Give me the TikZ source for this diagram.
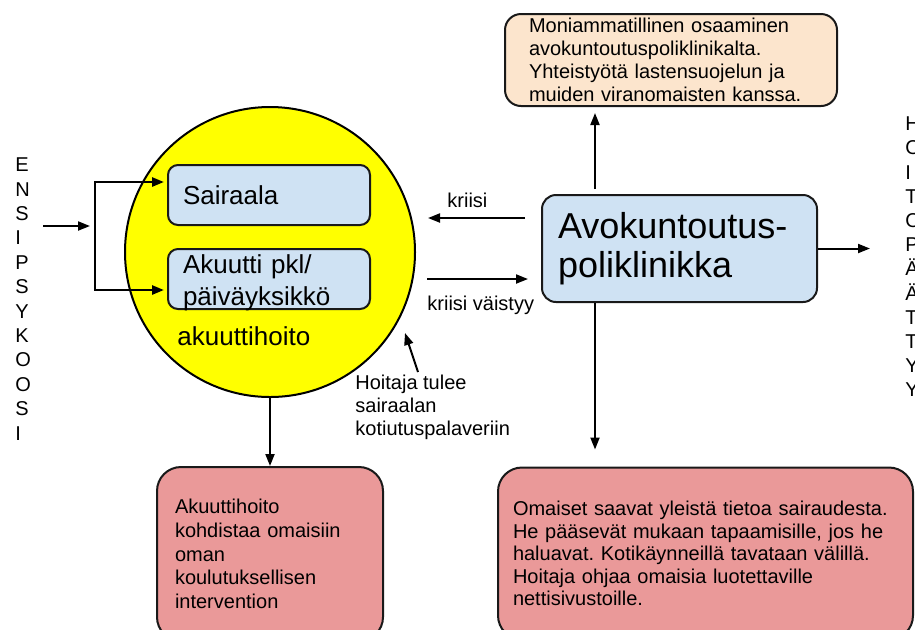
\documentclass[tikz,border=0pt]{standalone}
\usepackage{fontspec}
\setmainfont{Liberation Sans}
\usetikzlibrary{arrows.meta,calc}
\frenchspacing

\definecolor{vaaleansininen}{HTML}{CFE2F3}
\definecolor{persikka}{HTML}{FCE5CD}
\definecolor{vaaleanpunainen}{HTML}{EA9999}
\definecolor{keltainen}{HTML}{FFFF00}

\tikzset{
  laatikko/.style={draw=black!90, line width=1pt, align=left, inner ysep=0pt},
  nuoli/.style={-{Triangle[length=6pt,width=4.5pt]}, line width=1pt},
  teksti/.style={font=\fontsize{10}{11.5}\selectfont, align=left, inner sep=0pt},
}

\begin{document}
\begin{tikzpicture}[x=0.5pt,y=-0.5pt]
  \useasboundingbox (0,0) rectangle (915,629);

  \node[circle, draw, line width=1pt, fill=keltainen, minimum size=145pt, inner sep=0pt] (hoito) at (270,252) {};

  \node[laatikko, fill=vaaleansininen, rounded corners=5pt, text width=86pt, inner xsep=7.5pt,
        minimum height=30pt, font=\fontsize{13}{16}\selectfont] (sairaala) at (269,195) {Sairaala};
  \node[laatikko, fill=vaaleansininen, rounded corners=5pt, text width=86pt, inner xsep=7.5pt,
        minimum height=30pt, text depth=15pt, font=\fontsize{13}{16}\selectfont] (akuutti) at (269,279) {Akuutti pkl/\\päiväyksikkö};
  \node[anchor=base west, inner sep=0pt, font=\fontsize{13}{16}\selectfont] (akuuttihoito) at (177,345) {akuuttihoito};

  \node[laatikko, fill=vaaleansininen, rounded corners=7pt, text width=121.5pt, inner xsep=8pt,
        minimum height=53.5pt, font=\fontsize{18}{19.5}\selectfont] (avo) at (679.5,248.5) {Avokuntoutus-\\poliklinikka};

  \node[laatikko, fill=persikka, rounded corners=8pt, text width=142pt, inner xsep=12pt,
        minimum height=46pt, font=\fontsize{10}{11.5}\selectfont] (yla) at (671,60)
        {Moniammatillinen osaaminen\\avokuntoutuspoliklinikalta.\\Yhteistyötä lastensuojelun ja\\muiden viranomaisten kanssa.};

  \node[laatikko, fill=vaaleanpunainen, rounded corners=12pt, text width=95pt, inner xsep=9pt,
        minimum height=87pt, font=\fontsize{10}{11.8}\selectfont] (kohdistaa) at (270,554)
        {Akuuttihoito\\kohdistaa omaisiin\\oman\\koulutuksellisen\\intervention};
  \node[laatikko, fill=vaaleanpunainen, rounded corners=12pt, text width=192.5pt, inner xsep=7.5pt,
        minimum height=86pt, font=\fontsize{10}{11.3}\selectfont] (omaiset) at (705.5,553.5)
        {Omaiset saavat yleistä tietoa sairaudesta.\\He pääsevät mukaan tapaamisille, jos he\\haluavat. Kotikäynneillä tavataan välillä.\\Hoitaja ohjaa omaisia luotettaville\\nettisivustoille.};

  \node[teksti, font=\fontsize{10}{12.2}\selectfont, anchor=west] (ensi) at (15,299)
        {E\\N\\S\\I\\P\\S\\Y\\K\\O\\O\\S\\I};
  \node[teksti, font=\fontsize{10}{12.1}\selectfont, anchor=west] (paattyy) at (905,257)
        {H\\O\\I\\T\\O\\P\\Ä\\Ä\\T\\T\\Y\\Y};

  \node[teksti, anchor=base west] (kriisi) at (447,207) {kriisi};
  \node[teksti, anchor=base west] (vaistyy) at (427,310) {kriisi väistyy};
  \node[teksti, anchor=north west] (hoitaja) at (355,375) {Hoitaja tulee\\sairaalan\\kotiutuspalaveriin};

  \coordinate (tulo) at (43,226);
  \coordinate (haara) at (95,226);
  \coordinate (k1) at (525,218);
  \coordinate (k2) at (428,218);
  \coordinate (v1) at (427,279);
  \coordinate (v2) at (528,279);
  \coordinate (h1) at (418,372);
  \coordinate (h2) at (405,333);
  \coordinate (pysty) at (595,0);
  \coordinate (ulos) at (870,248.5);

  \draw[nuoli, shorten >=2.5pt] (tulo) -- (haara);
  \draw[nuoli, line width=1.3pt, shorten >=1.5pt] (haara) |- ($(sairaala.west)+(0,-13)$);
  \draw[nuoli, line width=1.3pt, shorten >=1.5pt] (haara) |- ($(akuutti.west)+(0,11)$);

  \draw[nuoli] (k1) -- (k2);
  \draw[nuoli] (v1) -- (v2);
  \draw[nuoli] (h1) -- (h2);

  \draw[nuoli, shorten <=2.5pt, shorten >=3pt] (avo.north -| pysty) -- (yla.south -| pysty);
  \draw[nuoli, shorten >=8.5pt] (avo.south -| pysty) -- (omaiset.north -| pysty);
  \draw[nuoli] (avo.east) -- (ulos);
  \draw[nuoli] (hoito.south) -- (kohdistaa.north);
\end{tikzpicture}
\end{document}
